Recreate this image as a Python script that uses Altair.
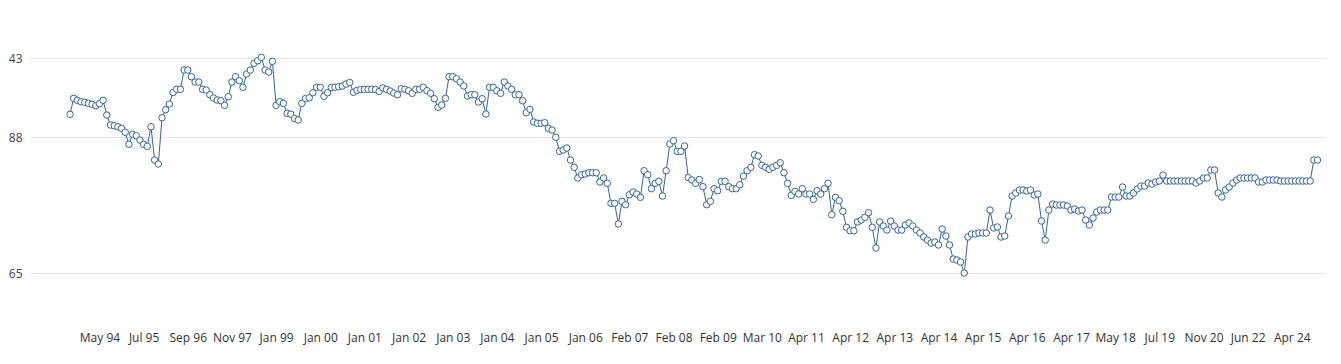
import altair as alt
import pandas as pd

# Series values (one per observation, in axis units)
values = [
    91.84, 94.55, 94.21, 93.97, 93.87, 93.70, 93.53, 93.29, 93.63, 94.21,
    91.72, 90.03, 89.91, 89.74, 89.47, 88.80, 86.77, 88.46, 88.22, 87.49,
    86.77, 86.43, 89.74, 84.11, 83.43, 91.26, 92.62, 93.58, 95.53, 96.08,
    96.07, 99.33, 99.33, 98.20, 97.30, 97.30, 96.07, 95.95, 95.15, 94.60,
    94.26, 94.14, 93.36, 94.82, 97.30, 98.20, 97.52, 96.41, 98.66, 99.33,
    100.46, 100.90, 101.48, 99.33, 98.99, 100.80, 93.36, 93.97, 93.70, 92.01,
    91.86, 91.13, 90.88, 93.70, 94.51, 94.63, 95.49, 96.41, 96.41, 94.88,
    95.49, 96.37, 96.41, 96.51, 96.63, 96.96, 97.22, 95.56, 95.90, 96.03,
    96.07, 96.07, 96.07, 96.03, 95.70, 96.29, 96.07, 95.78, 95.44, 95.15,
    96.15, 96.07, 95.83, 95.39, 96.07, 96.07, 96.41, 95.83, 95.39, 94.48,
    93.02, 93.41, 94.55, 98.20, 98.20, 97.86, 97.30, 96.63, 94.93, 95.15,
    95.15, 93.92, 94.48, 91.89, 96.41, 96.41, 95.83, 95.39, 97.30, 96.63,
    96.07, 95.15, 95.15, 94.14, 92.11, 92.69, 90.54, 90.32, 90.32, 90.42,
    89.47, 89.18, 87.95, 85.58, 85.80, 86.14, 84.11, 82.88, 81.07, 81.63,
    81.74, 81.96, 81.96, 81.96, 80.39, 81.07, 80.17, 76.79, 76.79, 73.29,
    77.13, 76.55, 78.24, 78.70, 78.36, 77.80, 82.30, 81.63, 79.26, 80.17,
    80.51, 78.02, 82.30, 86.82, 87.37, 85.58, 85.58, 86.48, 81.15, 80.73,
    80.17, 80.81, 79.60, 76.55, 77.13, 79.26, 78.92, 80.51, 80.51, 79.60,
    79.26, 79.26, 79.93, 81.40, 82.30, 82.88, 85.01, 84.79, 83.21, 82.88,
    82.54, 82.88, 83.21, 83.65, 81.96, 80.17, 78.14, 78.82, 78.36, 79.26,
    78.36, 78.36, 77.46, 78.92, 78.36, 79.26, 80.17, 74.86, 77.80, 77.23,
    75.44, 72.73, 72.15, 72.15, 73.63, 73.96, 74.42, 75.20, 72.73, 69.23,
    73.63, 72.95, 72.27, 73.79, 72.95, 72.27, 72.27, 73.12, 73.46, 72.95,
    72.27, 71.77, 71.09, 70.58, 70.07, 70.24, 69.74, 72.44, 71.26, 69.74,
    67.37, 67.20, 66.86, 65.00, 71.09, 71.60, 71.60, 71.77, 71.77, 71.77,
    75.65, 72.61, 72.78, 71.09, 71.26, 74.64, 78.02, 78.53, 79.04, 79.04,
    78.87, 79.04, 78.19, 78.36, 73.79, 70.58, 75.65, 76.67, 76.50, 76.50,
    76.50, 76.33, 75.65, 75.82, 75.49, 75.65, 73.96, 73.12, 74.30, 75.32,
    75.65, 75.65, 75.65, 77.85, 77.85, 77.85, 79.54, 78.02, 78.02, 78.53,
    79.21, 79.71, 79.71, 80.22, 80.05, 80.39, 80.56, 81.57, 80.56, 80.56,
    80.56, 80.56, 80.56, 80.56, 80.56, 80.56, 80.22, 80.56, 81.07, 81.07,
    82.42, 82.42, 78.53, 77.85, 79.04, 79.54, 80.22, 80.73, 81.07, 81.07,
    81.07, 81.07, 81.07, 80.39, 80.39, 80.73, 80.73, 80.73, 80.73, 80.56,
    80.56, 80.56, 80.56, 80.56, 80.56, 80.56, 80.56, 80.56, 84.11, 84.11,
]

# X tick labels (one every 12 observations, starting at observation 8)
x_tick_labels = [
    "May 94", "Jul 95", "Sep 96", "Nov 97", "Jan 99", "Jan 00", "Jan 01",
    "Jan 02", "Jan 03", "Jan 04", "Jan 05", "Jan 06", "Feb 07", "Feb 08",
    "Feb 09", "Mar 10", "Apr 11", "Apr 12", "Apr 13", "Apr 14", "Apr 15",
    "Apr 16", "Apr 17", "May 18", "Jul 19", "Nov 20", "Jun 22", "Apr 24",
]
x_first_tick = 8
x_tick_step = 12
x_tick_values = [x_first_tick + x_tick_step * k for k in range(len(x_tick_labels))]

# Y tick values and the labels printed at them
y_tick_values = [65, 88, 101.36]
y_tick_labels = ["65", "88", "43"]

df = pd.DataFrame({"idx": list(range(len(values))), "value": values})

x_label_expr = "[" + ",".join("'%s'" % s for s in x_tick_labels) + "][round((datum.value - %d) / %d)]" % (x_first_tick, x_tick_step)
y_label_expr = " : ".join(
    "abs(datum.value - %s) < 0.01 ? '%s'" % (v, l) for v, l in zip(y_tick_values, y_tick_labels)
) + " : ''"

color = "#336699"

x_enc = alt.X(
    "idx:Q",
    scale=alt.Scale(domain=[-10.87, 341.3], nice=False, zero=False),
    axis=alt.Axis(
        values=x_tick_values, labelExpr=x_label_expr, title=None, grid=False,
        ticks=False, domain=False, labelPadding=7, labelFontSize=12,
        labelFont="Open Sans", labelColor="#333333", labelOverlap=False,
    ),
)
y_enc = alt.Y(
    "value:Q",
    scale=alt.Scale(domain=[56.21, 109.82], nice=False, zero=False),
    axis=alt.Axis(
        values=y_tick_values, labelExpr=y_label_expr, title=None, grid=True,
        gridColor="#e6e6e6", gridWidth=1, ticks=False, domain=False,
        labelPadding=8, labelFontSize=12, labelFont="Open Sans",
        labelColor="#444444",
    ),
)

base = alt.Chart(df).encode(x=x_enc, y=y_enc)
line = base.mark_line(color=color, strokeWidth=1)
points = base.mark_point(
    filled=True, fill="white", stroke=color, strokeWidth=1, size=42, opacity=1
)

chart = (
    alt.layer(line, points)
    .properties(
        width=1296, height=317,
        padding={"left": 0, "top": 0, "right": 0, "bottom": 6},
        background="white",
    )
    .configure_view(stroke=None)
)

chart.save("out.html", embed_options={"renderer": "svg", "actions": False})
